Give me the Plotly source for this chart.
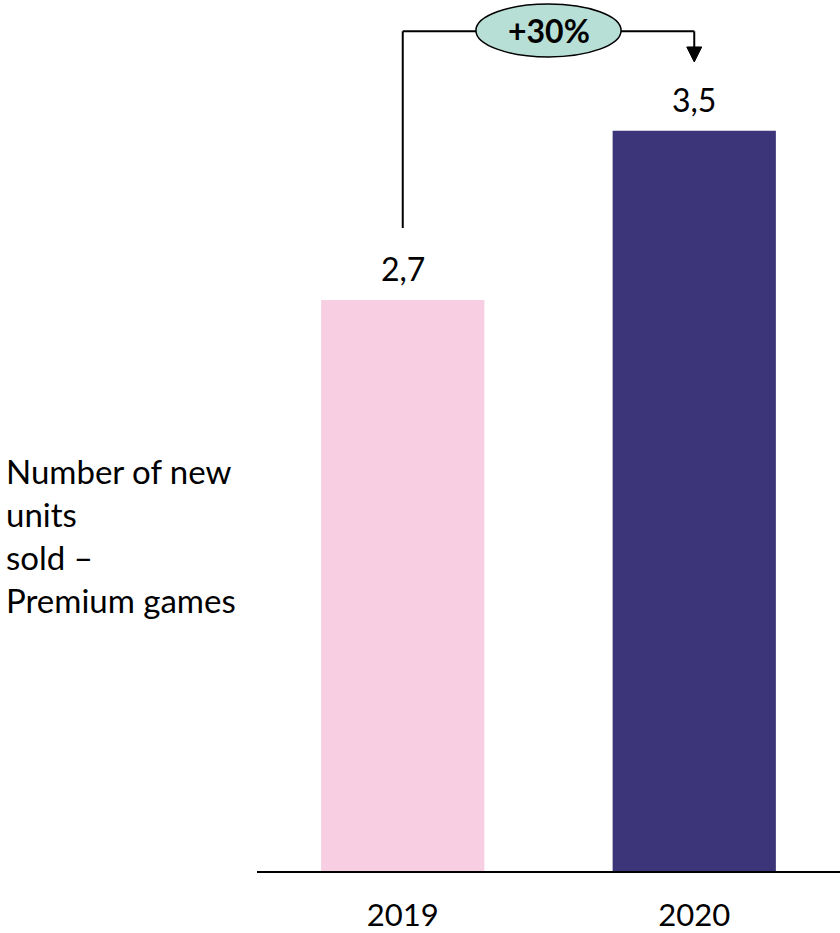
import plotly.graph_objects as go

categories = ["2019", "2020"]
values = [2.7, 3.5]
value_labels = ["2,7", "3,5"]
bar_colors = ["#F7CEE2", "#3D3579"]
growth_label = "+30%"
y_title = "Number of new<br>units<br>sold –<br>Premium games"

FONT = "Lato"
fig = go.Figure()
fig.add_trace(go.Bar(
    x=categories, y=values, marker=dict(color=bar_colors, line=dict(width=0)),
    width=0.56, hoverinfo="skip",
))

for i, (v, lab) in enumerate(zip(values, value_labels)):
    fig.add_annotation(x=i, y=v, text=lab, showarrow=False, xref="x", yref="y",
                       yanchor="bottom", yshift=10, font=dict(family=FONT, size=32, color="#000"))

# bracket
top = 3.97
left_start = values[0] + 0.34
tip = values[1] + 0.325
head_h = 0.071
hw = 0.0257
line = dict(color="black", width=2)
fig.add_shape(type="line", xref="x", yref="y", x0=0, x1=0, y0=left_start, y1=top, line=line)
fig.add_shape(type="line", xref="x", yref="y", x0=0, x1=1, y0=top, y1=top, line=line)
fig.add_shape(type="line", xref="x", yref="y", x0=1, x1=1, y0=top, y1=tip + head_h - 0.01, line=line)
fig.add_shape(type="path", xref="x", yref="y",
              path=f"M {1-hw},{tip+head_h} L {1+hw},{tip+head_h} L 1,{tip} Z",
              fillcolor="black", line=dict(color="black", width=1))
fig.add_shape(type="circle", xref="x", yref="y", x0=0.251, x1=0.749, y0=3.849, y1=4.099,
              fillcolor="#B8DFD5", line=dict(color="black", width=1.5))
fig.add_annotation(x=0.5, y=3.974, xref="x", yref="y", text=f"<b>{growth_label}</b>",
                   showarrow=False, font=dict(family=FONT, size=32, color="#000"))

fig.add_annotation(x=-0.434, y=0.385, xref="paper", yref="paper", text=y_title,
                   showarrow=False, xanchor="left", yanchor="middle", align="left",
                   font=dict(family=FONT, size=33, color="#000"))

fig.update_layout(
    width=840, height=933, margin=dict(l=257, r=0, t=0, b=62, autoexpand=False),
    plot_bgcolor="white", paper_bgcolor="white", showlegend=False, bargap=0.44,
    xaxis=dict(type="category", showline=True, linecolor="black", linewidth=2, ticks="",
               showgrid=False, tickfont=dict(family=FONT, size=31, color="#000"),
               ticklabelstandoff=16, range=[-0.5, 1.5], automargin=False),
    yaxis=dict(range=[0, 4.118], visible=False, showgrid=False, automargin=False),
)
fig.write_html("out.html", config={"displayModeBar": False},
               post_script="document.body.style.margin='0';document.body.style.overflow='hidden';")
